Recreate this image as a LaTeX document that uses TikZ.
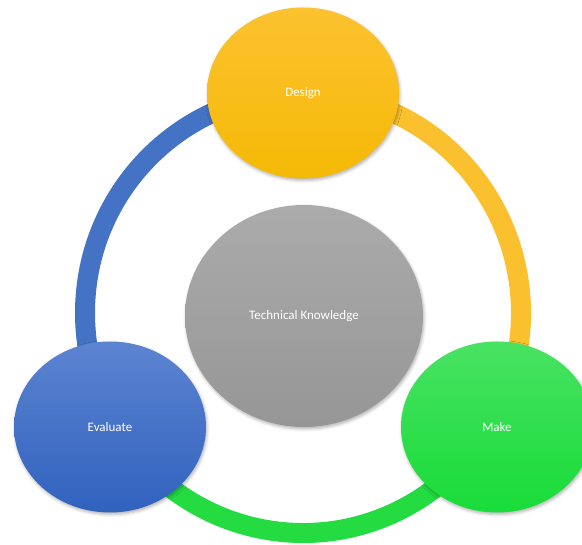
\documentclass[tikz,border=0pt]{standalone}
\usepackage{fontspec}
\setmainfont{Carlito}
\usepackage{xcolor}
\usepackage{tikz}
\usetikzlibrary{shapes,shadows.blur,backgrounds}

\definecolor{ringblue}{RGB}{68,114,196}
\definecolor{ringyellow}{RGB}{251,192,45}
\definecolor{ringgreen}{RGB}{36,220,66}

\begin{document}
\begin{tikzpicture}[x=1pt,y=1pt]

                \edef\ringrx{218pt}
                \edef\ringry{220pt}
                \tikzstyle{phase}=[ellipse,minimum width=192pt,minimum height=171pt,inner sep=0pt,
                    text=white,font=\fontsize{13}{15}\selectfont,
                    blur shadow={shadow xshift=1pt,shadow yshift=-2pt,shadow blur radius=3pt,shadow opacity=30}]
                \tikzstyle{ring}=[line width=20pt]

                \useasboundingbox (0,0) rectangle (582,545);

                \node [phase,top color={rgb,255:red,252;green,194;blue,48},bottom color={rgb,255:red,245;green,185;blue,5}] (design) at (303,452) {Design};
                \node [phase,minimum width=238pt,minimum height=222pt,
                       top color={rgb,255:red,171;green,171;blue,171},bottom color={rgb,255:red,150;green,150;blue,150}] (knowledge) at (304,229) {Technical Knowledge};
                \node [phase,top color={rgb,255:red,92;green,132;blue,209},bottom color={rgb,255:red,48;green,98;blue,190}] (evaluate) at (110,118) {Evaluate};
                \node [phase,top color={rgb,255:red,72;green,226;blue,98},bottom color={rgb,255:red,24;green,220;blue,56}] (make) at (497,118) {Make};

                % the ring runs behind the four ellipses
                \begin{pgfonlayer}{background}
                    \coordinate (hub) at (303,232);
                    \path (hub) +(90:218pt and 220pt) coordinate (r1)
                                +(210:218pt and 220pt) coordinate (r2)
                                +(330:218pt and 220pt) coordinate (r3);
                    \draw[ring,ringblue] (r1) arc[start angle=90,end angle=210,x radius=\ringrx,y radius=\ringry];
                    \draw[ring,ringgreen] (r2) arc[start angle=210,end angle=330,x radius=\ringrx,y radius=\ringry];
                    \draw[ring,ringyellow] (r3) arc[start angle=330,end angle=450,x radius=\ringrx,y radius=\ringry];
                \end{pgfonlayer}

            \end{tikzpicture}
\end{document}
